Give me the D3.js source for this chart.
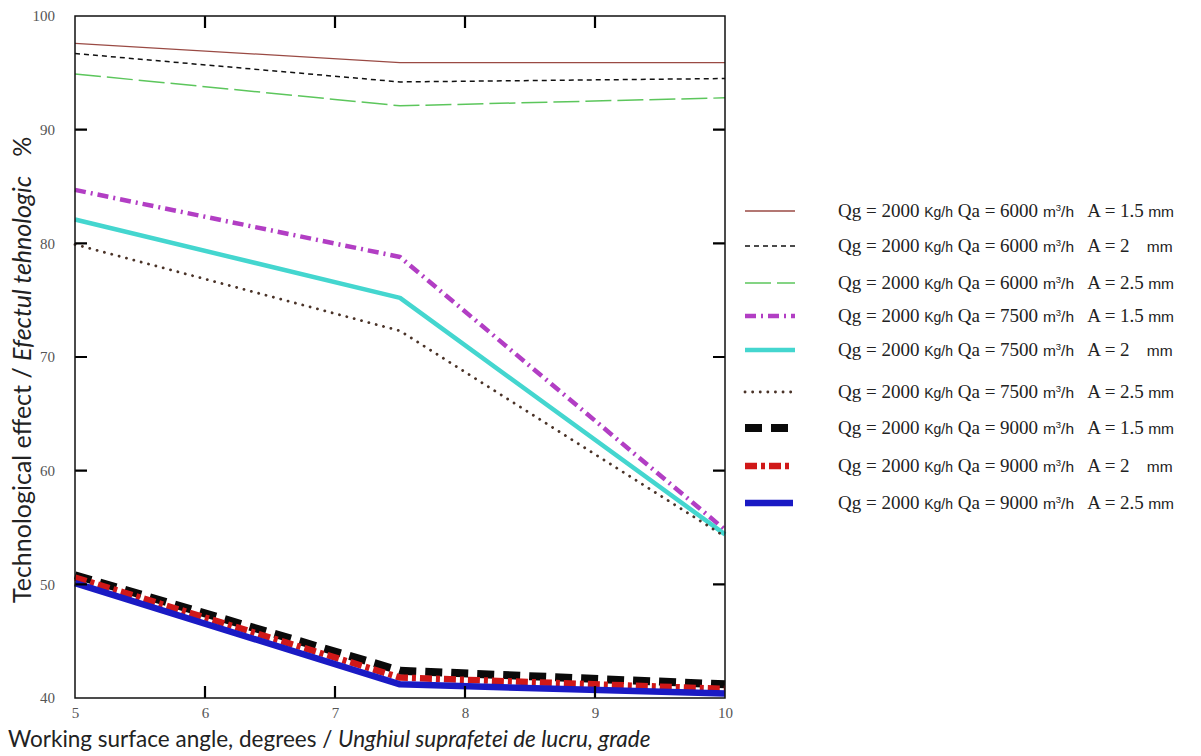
<!DOCTYPE html>
<html>
<head>
<meta charset="utf-8">
<script src="https://cdn.jsdelivr.net/npm/d3@7"></script>
<style>
  html, body { margin: 0; padding: 0; background: #fff; }
  svg { display: block; }
  text { white-space: pre; }
</style>
</head>
<body>
<svg id="chart" width="1201" height="756"></svg>
<script>
// Working surface angle, degrees
const angles = [5, 7.5, 10];

// Technological effect, % — one array per operating regime
const qa6000_a15 = [97.6, 95.9, 95.9];
const qa6000_a20 = [96.7, 94.2, 94.5];
const qa6000_a25 = [94.9, 92.1, 92.8];
const qa7500_a15 = [84.7, 78.8, 54.8];
const qa7500_a20 = [82.1, 75.2, 54.4];
const qa7500_a25 = [79.9, 72.3, 54.2];
const qa9000_a15 = [50.8, 42.4, 41.2];
const qa9000_a20 = [50.6, 41.8, 40.8];
const qa9000_a25 = [50.1, 41.2, 40.4];

// Legend parameters
const qgValues = [2000, 2000, 2000, 2000, 2000, 2000, 2000, 2000, 2000];
const qaValues = [6000, 6000, 6000, 7500, 7500, 7500, 9000, 9000, 9000];
const aValues  = ["1.5", "2", "2.5", "1.5", "2", "2.5", "1.5", "2", "2.5"];

// Axis ticks
const xTicks = [5, 6, 7, 8, 9, 10];
const yTicks = [40, 50, 60, 70, 80, 90, 100];

const seriesValues = [qa6000_a15, qa6000_a20, qa6000_a25, qa7500_a15, qa7500_a20,
                      qa7500_a25, qa9000_a15, qa9000_a20, qa9000_a25];

// Line styles per series
const styles = [
  { color: "#9a4a44", width: 1.3, dash: null,           cap: "butt"  },
  { color: "#111111", width: 1.5, dash: "5,4",          cap: "butt"  },
  { color: "#5cc65c", width: 1.5, dash: "26,6",         cap: "butt"  },
  { color: "#b23ec4", width: 4.5, dash: "11,5,2,5",     cap: "butt"  },
  { color: "#44d6cf", width: 4.5, dash: null,           cap: "butt"  },
  { color: "#4a3328", width: 2.8, dash: "0.1,7.5",      cap: "round" },
  { color: "#0a0a0a", width: 8,   dash: "17,9",         cap: "butt"  },
  { color: "#d01818", width: 6.5, dash: "12,4,4,4",     cap: "butt"  },
  { color: "#1a1ac4", width: 6.5, dash: null,           cap: "butt"  }
];

const svg = d3.select("#chart");
const plot = { left: 75, right: 725, top: 16, bottom: 698 };

const x = d3.scaleLinear().domain([5, 10]).range([plot.left, plot.right]);
const y = d3.scaleLinear().domain([40, 100]).range([plot.bottom, plot.top]);

// Series lines
const line = d3.line().x((d, i) => x(angles[i])).y(d => y(d));
const linesG = svg.append("g");
seriesValues.forEach((vals, i) => {
  const s = styles[i];
  linesG.append("path")
    .datum(vals)
    .attr("d", line)
    .attr("fill", "none")
    .attr("stroke", s.color)
    .attr("stroke-width", s.width)
    .attr("stroke-dasharray", s.dash)
    .attr("stroke-linecap", s.cap)
    .attr("stroke-linejoin", "round");
});

// Tick labels from d3 axes (bottom and left)
const axisFont = "'Liberation Serif', 'Times New Roman', serif";
const bottomAxis = d3.axisBottom(x).tickValues(xTicks).tickSize(0).tickPadding(9).tickFormat(d3.format("d"));
const leftAxis = d3.axisLeft(y).tickValues(yTicks).tickSize(0).tickPadding(20).tickFormat(d3.format("d"));

function styleAxis(g) {
  g.select(".domain").remove();
  g.selectAll(".tick line").remove();
  g.selectAll(".tick text").attr("fill", "#555").style("font-family", axisFont).style("font-size", "15px");
}
svg.append("g").attr("transform", `translate(0,${plot.bottom})`).call(bottomAxis).call(styleAxis);
svg.append("g").attr("transform", `translate(${plot.left},0)`).call(leftAxis).call(styleAxis);

// Inward tick marks on all four sides of the frame, drawn as one path
const tickLen = 12;
const innerX = xTicks.slice(1, -1);
const innerY = yTicks.slice(1, -1);
const tickPath = d3.path();
innerX.forEach(v => {
  tickPath.moveTo(x(v), plot.bottom); tickPath.lineTo(x(v), plot.bottom - tickLen);
  tickPath.moveTo(x(v), plot.top);    tickPath.lineTo(x(v), plot.top + tickLen);
});
innerY.forEach(v => {
  tickPath.moveTo(plot.left, y(v));  tickPath.lineTo(plot.left + tickLen, y(v));
  tickPath.moveTo(plot.right, y(v)); tickPath.lineTo(plot.right - tickLen, y(v));
});
svg.append("path")
  .attr("d", tickPath.toString())
  .attr("fill", "none")
  .attr("stroke", "#000")
  .attr("stroke-width", 2.2);

svg.append("rect")
  .attr("x", plot.left).attr("y", plot.top)
  .attr("width", plot.right - plot.left).attr("height", plot.bottom - plot.top)
  .attr("fill", "none").attr("stroke", "#111").attr("stroke-width", 1.5);

// Axis titles
const titleFont = "Lato, 'Open Sans', sans-serif";
const xt = svg.append("text")
  .attr("x", 8).attr("y", 747)
  .attr("fill", "#222")
  .style("font-family", titleFont).style("font-size", "22.5px");
xt.append("tspan").text("Working surface angle, degrees / ");
xt.append("tspan").style("font-style", "italic").text("Unghiul suprafetei de lucru, grade");

const yt = svg.append("text")
  .attr("transform", "translate(31,603) rotate(-90)")
  .attr("fill", "#222")
  .style("font-family", titleFont).style("font-size", "25px");
yt.append("tspan").text("Technological effect / ");
yt.append("tspan").style("font-style", "italic").text("Efectul tehnologic");
yt.append("tspan").text("   %");

// Legend
const legendRows = [211, 246, 283, 316, 350, 392, 428, 466, 503];
const legend = svg.append("g");
const sansSmall = "'Liberation Sans', Arial, sans-serif";
legendRows.forEach((ry, i) => {
  const s = styles[i];
  legend.append("line")
    .attr("x1", 745).attr("x2", i >= 6 ? 793 : 795)
    .attr("y1", ry).attr("y2", ry)
    .attr("stroke", s.color)
    .attr("stroke-width", s.width)
    .attr("stroke-dasharray", s.dash)
    .attr("stroke-linecap", s.cap);

  const t = legend.append("text")
    .attr("x", 838).attr("y", ry + 6)
    .attr("fill", "#222")
    .style("font-family", axisFont).style("font-size", "19px");
  t.append("tspan").text(`Qg = ${qgValues[i]} `);
  t.append("tspan").style("font-family", sansSmall).style("font-size", "14px").text("Kg/h");
  t.append("tspan").text(` Qa = ${qaValues[i]} `);
  t.append("tspan").style("font-family", sansSmall).style("font-size", "15.5px").text("m");
  t.append("tspan").style("font-family", sansSmall).style("font-size", "9.5px").attr("dy", -6).text("3");
  t.append("tspan").style("font-family", sansSmall).style("font-size", "15.5px").attr("dy", 6).text("/h");
  t.append("tspan").text(`   A = ${aValues[i]}`);
  t.append("tspan").style("font-family", sansSmall).style("font-size", "15.5px")
    .text(aValues[i].length === 1 ? "    mm" : " mm");
});
</script>
</body>
</html>
